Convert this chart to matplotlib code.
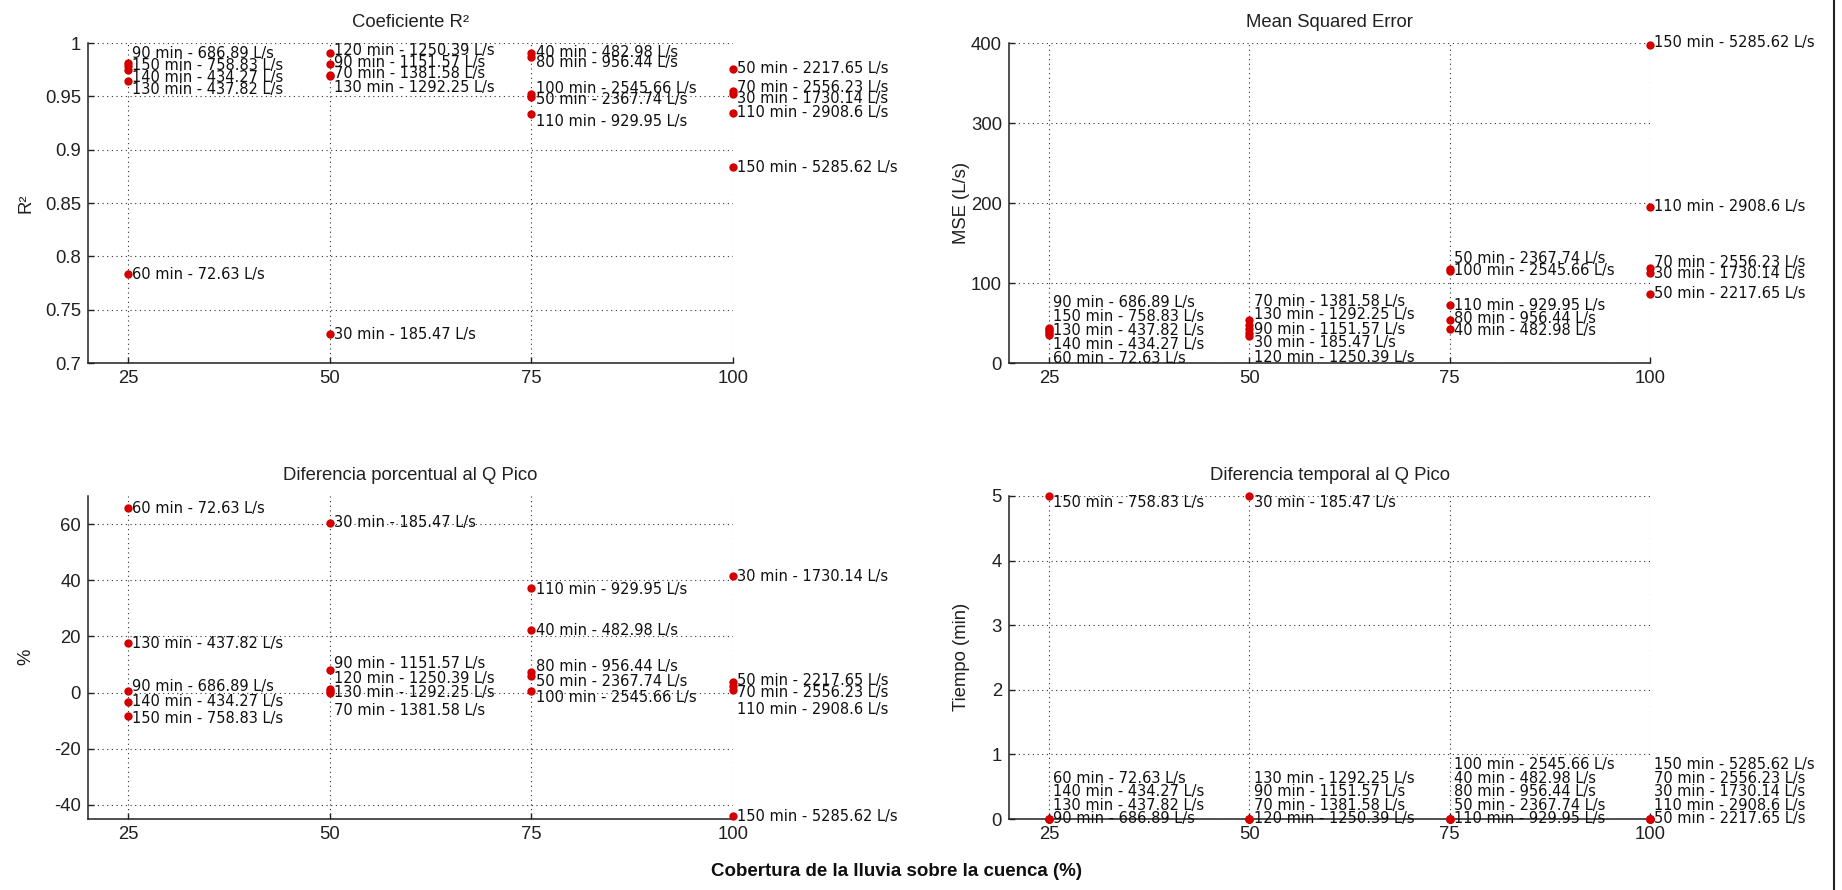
import matplotlib
matplotlib.use("Agg")
import matplotlib.pyplot as plt
from matplotlib.lines import Line2D

# ---------------- data ----------------
coverage = [25, 50, 75, 100]

events_25 = ["60 min - 72.63 L/s", "90 min - 686.89 L/s", "130 min - 437.82 L/s",
             "140 min - 434.27 L/s", "150 min - 758.83 L/s"]
events_50 = ["30 min - 185.47 L/s", "70 min - 1381.58 L/s", "90 min - 1151.57 L/s",
             "120 min - 1250.39 L/s", "130 min - 1292.25 L/s"]
events_75 = ["40 min - 482.98 L/s", "50 min - 2367.74 L/s", "80 min - 956.44 L/s",
             "100 min - 2545.66 L/s", "110 min - 929.95 L/s"]
events_100 = ["30 min - 1730.14 L/s", "50 min - 2217.65 L/s", "70 min - 2556.23 L/s",
              "110 min - 2908.6 L/s", "150 min - 5285.62 L/s"]

# coefficient of determination
r2_25 = [0.783, 0.981, 0.964, 0.975, 0.978]
r2_50 = [0.727, 0.970, 0.980, 0.991, 0.969]
r2_75 = [0.991, 0.949, 0.987, 0.952, 0.933]
r2_100 = [0.952, 0.976, 0.955, 0.934, 0.884]

# mean squared error (L/s)
mse_25 = [35, 44, 40, 38, 42]
mse_50 = [38, 54, 43, 34, 48]
mse_75 = [42, 118, 54, 115, 73]
mse_100 = [112, 86, 119, 195, 398]

# peak flow difference (%)
pct_25 = [65.6, 0.5, 17.6, -3.2, -8.2]
pct_50 = [60.5, -0.2, 8.0, 1.2, 0.5]
pct_75 = [22.3, 5.8, 7.5, 0.6, 37.2]
pct_100 = [41.5, 3.6, 2.2, 1.0, -44.0]

# peak time difference (min)
dt_25 = [0, 0, 0, 0, 5]
dt_50 = [5, 0, 0, 0, 0]
dt_75 = [0, 0, 0, 0, 0]
dt_100 = [0, 0, 0, 0, 0]

x_ticks = [25, 50, 75, 100]
x_ticklabels = ["25", "50", "75", "100"]
r2_ticks = [0.7, 0.75, 0.8, 0.85, 0.9, 0.95, 1]
r2_ticklabels = ["0.7", "0.75", "0.8", "0.85", "0.9", "0.95", "1"]
mse_ticks = [0, 100, 200, 300, 400]
mse_ticklabels = ["0", "100", "200", "300", "400"]
pct_ticks = [-40, -20, 0, 20, 40, 60]
pct_ticklabels = ["-40", "-20", "0", "20", "40", "60"]
dt_ticks = [0, 1, 2, 3, 4, 5]
dt_ticklabels = ["0", "1", "2", "3", "4", "5"]

# ---------------- label placement (y, data units) ----------------
r2_lab = [[0.783, 0.990, 0.956, 0.968, 0.979],
          [0.727, 0.971, 0.982, 0.993, 0.958],
          [0.991, 0.947, 0.982, 0.957, 0.926],
          [0.948, 0.976, 0.958, 0.935, 0.883]]
mse_lab = [[6, 75, 41, 23, 58],
           [25, 77, 42, 7, 60],
           [41, 131, 55, 116, 72],
           [112, 87, 126, 196, 400]]
pct_lab = [[65.6, 2.0, 17.6, -3.2, -9.2],
           [60.5, -6.3, 10.5, 5.2, 0.0],
           [22.0, 4.0, 9.2, -1.8, 36.8],
           [41.5, 4.3, 0.0, -6.0, -44.0]]
dt_lab = [[0.63, 0.0, 0.21, 0.42, 4.90],
          [4.90, 0.21, 0.42, 0.0, 0.63],
          [0.63, 0.21, 0.42, 0.84, 0.0],
          [0.42, 0.0, 0.63, 0.21, 0.84]]

# ---------------- styling ----------------
W, H = 1842, 890
RED = "#d40000"
TICK_FONT = "Liberation Sans"
LABEL_FONT = "DejaVu Sans"

fig = plt.figure(figsize=(W / 100, H / 100), dpi=100)
fig.patch.set_facecolor("white")


def px_axes(l, t, r, b):
    return fig.add_axes([l / W, 1 - b / H, (r - l) / W, (b - t) / H])


events = [events_25, events_50, events_75, events_100]


def panel(ax, series, labpos, ylim, yticks, yticklabels, title):
    ax.set_xlim(20, 100)
    ax.set_ylim(*ylim)
    ax.set_xticks(x_ticks)
    ax.set_xticklabels(x_ticklabels)
    ax.set_yticks(yticks)
    ax.set_yticklabels(yticklabels)
    for s in ("top", "right"):
        ax.spines[s].set_visible(False)
    for s in ("left", "bottom"):
        ax.spines[s].set_linewidth(1.1)
        ax.spines[s].set_color("#202020")
    ax.tick_params(direction="in", length=4, width=1.0, pad=5, colors="#202020",
                   labelsize=13.3)
    for lab in ax.get_xticklabels() + ax.get_yticklabels():
        lab.set_fontfamily(TICK_FONT)
    ax.grid(True, color="#303030", linestyle=(0, (1, 3.2)), linewidth=0.8)
    ax.set_axisbelow(True)
    ax.set_title(title, fontsize=13.3, family=TICK_FONT, pad=11.5, color="#202020")
    for xi, vals, labs, names in zip(coverage, series, labpos, events):
        ax.plot([xi] * len(vals), vals, "o", color=RED, ms=6, mec="none",
                clip_on=False, zorder=4)
        for ly, name in zip(labs, names):
            ax.annotate(name, xy=(xi, ly), xytext=(3, 0), textcoords="offset points",
                        ha="left", va="center", fontsize=10.5, family=LABEL_FONT,
                        color="#101010", annotation_clip=False, zorder=5)


ax1 = px_axes(88, 43, 733, 363)
panel(ax1, [r2_25, r2_50, r2_75, r2_100], r2_lab, (0.7, 1.0), r2_ticks, r2_ticklabels,
      "Coeficiente R²")
ax2 = px_axes(1009, 43, 1650, 363)
panel(ax2, [mse_25, mse_50, mse_75, mse_100], mse_lab, (0, 400), mse_ticks,
      mse_ticklabels, "Mean Squared Error")
ax3 = px_axes(88, 496, 733, 819)
panel(ax3, [pct_25, pct_50, pct_75, pct_100], pct_lab, (-45, 70), pct_ticks,
      pct_ticklabels, "Diferencia porcentual al Q Pico")
ax4 = px_axes(1009, 496, 1650, 819)
panel(ax4, [dt_25, dt_50, dt_75, dt_100], dt_lab, (0, 5), dt_ticks, dt_ticklabels,
      "Diferencia temporal al Q Pico")

# y-axis titles
ylab_kw = dict(rotation=90, ha="center", va="center", fontsize=13.3,
               family=TICK_FONT, color="#202020")
fig.text(26 / W, 1 - 203 / H, "R²", **ylab_kw)
fig.text(961 / W, 1 - 203 / H, "MSE (L/s)", **ylab_kw)
fig.text(26 / W, 1 - 657 / H, "%", **ylab_kw)
fig.text(961 / W, 1 - 657 / H, "Tiempo (min)", **ylab_kw)

# shared x-axis title
fig.text(896 / W, 1 - 872 / H, "Cobertura de la lluvia sobre la cuenca (%)",
         ha="center", va="center", fontsize=13.5, fontweight="bold",
         family=TICK_FONT, color="#101010")

# window border on the right
fig.add_artist(Line2D([1834 / W, 1834 / W], [0, 1], transform=fig.transFigure,
                      color="#202020", linewidth=1.5))

fig.savefig("out.png", dpi=100, facecolor="white")
